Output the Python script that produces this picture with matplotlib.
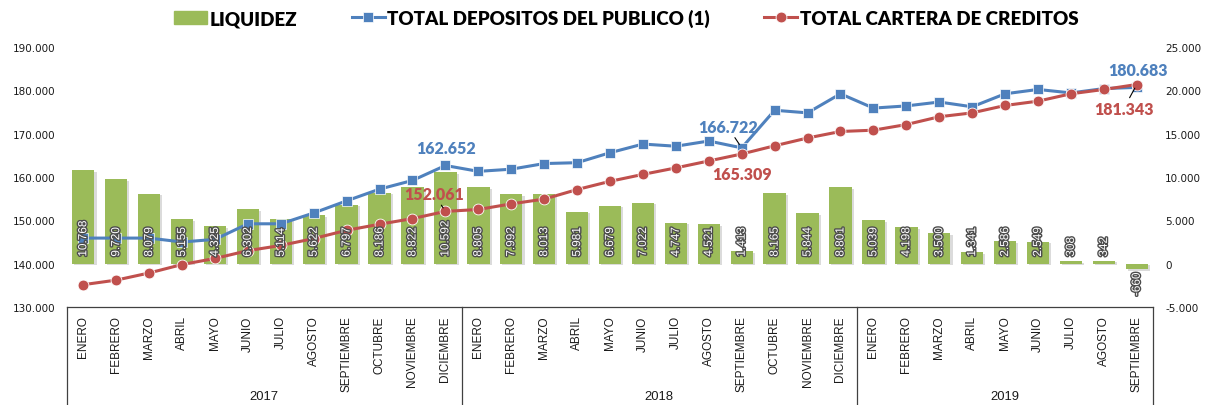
import matplotlib
matplotlib.use('Agg')
import numpy as np
import matplotlib.pyplot as plt
import matplotlib.patheffects as pe
import matplotlib.transforms as mtransforms
from matplotlib import font_manager as fm
from matplotlib.patches import Patch
from matplotlib.lines import Line2D

# datos (miles)
meses = ['ENERO', 'FEBRERO', 'MARZO', 'ABRIL', 'MAYO', 'JUNIO', 'JULIO', 'AGOSTO',
         'SEPTIEMBRE', 'OCTUBRE', 'NOVIEMBRE', 'DICIEMBRE']
years = ['2017', '2018', '2019']
meses_por_year = [12, 12, 9]

liquidez = [10768, 9720, 8079, 5155, 4325, 6302, 5114, 5622, 6797, 8186, 8822, 10592,
            8805, 7992, 8013, 5981, 6679, 7022, 4747, 4521, 1413, 8165, 5844, 8801,
            5039, 4198, 3500, 1341, 2586, 2549, 308, 342, -660]
depositos = [145900, 145900, 145900, 145000, 145600, 149200, 149200, 151700, 154500, 157200, 159200, 162652,
             161300, 161800, 163100, 163300, 165600, 167600, 167100, 168300, 166722, 175400, 174800, 179200,
             175900, 176400, 177300, 176200, 179200, 180200, 179400, 180400, 180683]
creditos = [135150, 136200, 137850, 139800, 141200, 143000, 144200, 145800, 147700, 149100, 150400, 152061,
            152500, 153800, 154900, 157100, 159000, 160600, 162100, 163700, 165309, 167200, 169000, 170500,
            170800, 172100, 173900, 174800, 176500, 177500, 179200, 180200, 181343]

etiquetas = [m for n in meses_por_year for m in meses[:n]]

verde = '#9BBB59'
azul = '#4F81BD'
rojo = '#C0504D'

names = {f.name for f in fm.fontManager.ttflist}
if 'Liberation Sans Narrow' in names:
    narrow, k = 'Liberation Sans Narrow', 1.0
else:
    narrow, k = 'Liberation Sans', 0.85


def fmt(v):
    return f'{v:,.0f}'.replace(',', '.')


fig = plt.figure(figsize=(12.07, 4.06), dpi=100)
ax = fig.add_axes([0.05535, 0.2414, 0.9001, 0.6404])
ax2 = ax.twinx()

x = np.arange(len(liquidez))

# barras liquidez (eje derecho)
bars = ax.bar(x, liquidez, width=0.68, color=verde, zorder=2)
for b in bars:
    b.set_path_effects([pe.SimplePatchShadow(offset=(1.5, -1.2), shadow_rgbFace='#8a8a8a', alpha=0.3),
                        pe.Normal()])
ax.set_xlim(-0.5, len(x) - 0.5)
ax.set_ylim(-5000, 25000)
ax.set_yticks(np.arange(-5000, 25001, 5000))
ax.set_yticklabels([fmt(v) for v in np.arange(-5000, 25001, 5000)])
ax.yaxis.tick_right()

# lineas (eje izquierdo)
ax2.plot(x, depositos, color=azul, lw=2.2, marker='s', ms=6.5,
         mec='white', mew=0.5, zorder=3)
ax2.plot(x, creditos, color=rojo, lw=2.2, marker='o', ms=7.8,
         mec='white', mew=0.6, zorder=4)
ax2.set_ylim(130000, 190000)
ax2.set_yticks(np.arange(130000, 190001, 10000))
ax2.set_yticklabels([fmt(v) for v in np.arange(130000, 190001, 10000)])
ax2.yaxis.tick_left()
ax2.set_xlim(-0.5, len(x) - 0.5)

for a in (ax, ax2):
    for s in ('top', 'left', 'right'):
        a.spines[s].set_visible(False)
    a.tick_params(axis='y', length=0, labelsize=7.5, colors='#1a1a1a', pad=8.5)
ax2.spines['bottom'].set_visible(False)
ax.spines['bottom'].set_color('#404040')
ax.spines['bottom'].set_linewidth(0.9)

ax.set_xticks(x)
ax.set_xticklabels(etiquetas, rotation=90, va='top', ha='center',
                   fontfamily=narrow, fontsize=10 * k, color='#1a1a1a')
ax.tick_params(axis='x', length=0, pad=6)

# etiquetas de las barras
for xi, v in zip(x, liquidez):
    if v >= 0:
        off, va = 7, 'bottom'
        y0 = 0
    else:
        off, va = -3, 'top'
        y0 = v
    ax2.annotate(fmt(v), (xi, y0), xycoords=ax.transData,
                 xytext=(0, off), textcoords='offset pixels',
                 rotation=90, ha='center', va=va, color='white',
                 fontfamily=narrow, fontsize=10 * k, zorder=6,
                 path_effects=[pe.withStroke(linewidth=2.0, foreground='#4d4d4d')])

# etiquetas destacadas
destacados = [
    (11, depositos[11], azul, (1, 17), False),
    (11, creditos[11], rojo, (-11, 17), True),
    (20, depositos[20], azul, (-14, 21), True),
    (20, creditos[20], rojo, (0, -20), False),
    (32, depositos[32], azul, (1, 17), False),
    (32, creditos[32], rojo, (-13, -24), True),
]
for xi, v, c, off, lider in destacados:
    props = dict(arrowstyle='-', color='black', lw=0.8, shrinkA=0, shrinkB=3) if lider else None
    ax2.annotate(fmt(v), (xi, v), xytext=off, textcoords='offset pixels',
                 ha='center', va='center', color=c, fontweight='heavy',
                 fontfamily='Lato', fontsize=11.5, zorder=7, arrowprops=props)

# caja del eje x por años
blend = mtransforms.blended_transform_factory(ax.transData, ax.transAxes)
limites = np.concatenate([[0], np.cumsum(meses_por_year)]) - 0.5
for b in limites:
    ax.plot([b, b], [0, -0.40], transform=blend, color='#404040', lw=0.9, clip_on=False)
centros = (limites[:-1] + limites[1:]) / 2
for c, yr in zip(centros, years):
    ax.text(c, -0.342, yr, transform=blend, ha='center', va='center',
            fontfamily=narrow, fontsize=11 * k, color='#1a1a1a')

# leyenda
handles = [Patch(facecolor=verde, edgecolor=verde),
           Line2D([], [], color=azul, lw=2.2, marker='s', ms=6.5, mec='white', mew=0.5),
           Line2D([], [], color=rojo, lw=2.2, marker='o', ms=7.8, mec='white', mew=0.6)]
fig.legend(handles, ['LIQUIDEZ', 'TOTAL DEPOSITOS DEL PUBLICO (1)', 'TOTAL CARTERA DE CREDITOS'],
           loc='center', bbox_to_anchor=(0.519, 0.953), ncol=3, frameon=False,
           prop=dict(family='Lato', weight='heavy', size=13.5),
           handlelength=1.75, handletextpad=0.15, columnspacing=2.9, borderpad=0)

fig.savefig('out.png', dpi=100)
